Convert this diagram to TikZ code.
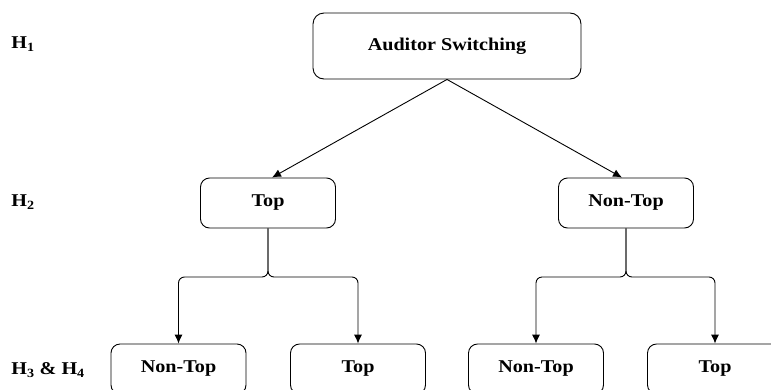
\documentclass[tikz,border=0pt]{standalone}
\usepackage{fontspec}
\setmainfont[FakeStretch=1.12]{Liberation Serif}
\usetikzlibrary{arrows.meta}

\begin{document}
\begin{tikzpicture}[x=1pt, y=-1pt, line width=0.9pt,
	font=\fontsize{18pt}{20pt}\selectfont\bfseries,
	box/.style={draw, rounded corners=9pt, minimum width=135pt, minimum height=50pt, inner sep=0pt},
	rootbox/.style={box, rounded corners=11pt, minimum width=268pt, minimum height=66pt},
	level/.style={anchor=west, inner sep=0pt},
	arr/.style={-{Latex[length=9pt,width=8pt]}},
	branch/.style={arr, rounded corners=6pt}]
	\clip (0,0) rectangle (771,389);
	% hypothesis labels
	\node[level] (h1) at (11,44) {H\textsubscript{1}};
	\node[level] (h2) at (11,202) {H\textsubscript{2}};
	\node[level] (h34) at (11,370) {H\textsubscript{3} \& H\textsubscript{4}};
	% boxes
	\node[rootbox] (sw) at (447,46) {Auditor Switching};
	\node[box] (top) at (268,203) {Top};
	\node[box] (nontop) at (626,203) {Non-Top};
	\node[box] (tnon) at (178.5,369) {Non-Top};
	\node[box] (ttop) at (358,369) {Top};
	\node[box] (nnon) at (536,369) {Non-Top};
	\node[box] (ntop) at (715,369) {Top};
	% arrows
	\draw[arr] (sw.south) -- ([xshift=4pt]top.north);
	\draw[arr] (sw.south) -- ([xshift=-4pt]nontop.north);
	\coordinate (tsplit) at (top.south |- 0,277);
	\coordinate (nsplit) at (nontop.south |- 0,277);
	\draw[branch] (top.south) -- (tsplit) -| (tnon.north);
	\draw[branch] (top.south) -- (tsplit) -| (ttop.north);
	\draw[branch] (nontop.south) -- (nsplit) -| (nnon.north);
	\draw[branch] (nontop.south) -- (nsplit) -| (ntop.north);
\end{tikzpicture}
\end{document}
